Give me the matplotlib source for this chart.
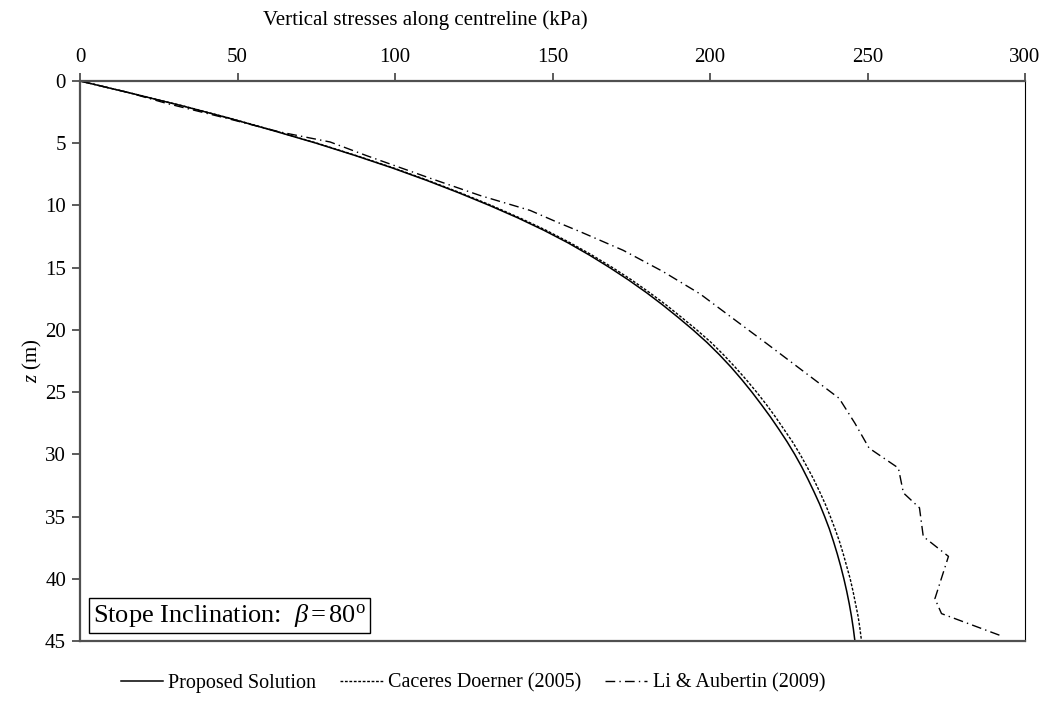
import matplotlib
matplotlib.use("Agg")
import matplotlib.pyplot as plt

plt.rcParams["font.family"] = ["Liberation Serif", "DejaVu Serif"]
plt.rcParams["mathtext.fontset"] = "custom"
plt.rcParams["mathtext.rm"] = "Liberation Serif"
plt.rcParams["mathtext.it"] = "Liberation Serif:italic"

# depth (m) and vertical stress (kPa)
depth = [0, 1, 2, 3, 4, 5, 6, 7, 8, 9, 10, 11, 12, 13, 14, 15, 16, 17, 18, 19, 20, 21, 22,
         23, 24, 25, 26, 27, 28, 29, 30, 31, 32, 33, 34, 35, 36, 37, 38, 39, 40, 41, 42, 43, 44, 45]
proposed = [0, 16.5, 32.5, 47.5, 61.5, 75.0, 87.5, 99.3, 110.2, 120.4, 130.0, 139.0, 147.3, 154.9,
            161.8, 168.2, 174.2, 179.8, 185.0, 189.9, 194.6, 199.0, 203.0, 206.7, 210.1, 213.3,
            216.3, 219.2, 221.9, 224.5, 226.9, 229.1, 231.1, 233.0, 234.8, 236.4, 237.9, 239.2,
            240.4, 241.5, 242.5, 243.4, 244.2, 244.9, 245.5, 246.0]
caceres = [0, 16.6, 32.7, 47.7, 61.8, 75.3, 87.8, 99.7, 110.6, 120.9, 130.6, 139.6, 148.0, 155.6,
           162.6, 169.1, 175.2, 180.8, 186.1, 191.0, 195.8, 200.3, 204.3, 208.0, 211.5, 214.8,
           217.9, 220.8, 223.5, 226.2, 228.6, 230.8, 232.9, 234.8, 236.6, 238.2, 239.7, 241.1,
           242.3, 243.4, 244.5, 245.4, 246.2, 247.0, 247.6, 248.1]

li_depth = [0, 0.9, 1.8, 3.0, 4.1, 4.9, 6.0, 7.8, 9.2, 10.4, 11.4, 12.1, 13.6, 15.3, 17.1, 19.5,
            21.1, 23.3, 25.5, 27.5, 29.5, 31.1, 33.1, 34.3, 36.6, 38.2, 41.6, 42.8, 44.6]
li_stress = [0, 15, 27.5, 46.6, 63.5, 79.4, 91, 111, 127, 142.9, 152, 158.7, 172.4, 185, 196.8, 209.5,
             218, 229.5, 241, 246, 250.5, 259.8, 261.4, 266.5, 267.7, 275.7, 271.4, 273.5, 292.6]

x_ticks = [0, 50, 100, 150, 200, 250, 300]
y_ticks = [0, 5, 10, 15, 20, 25, 30, 35, 40, 45]

fig = plt.figure(figsize=(10.48, 7.02), dpi=100)
ax = fig.add_axes([80 / 1048, 1 - 641 / 702, 945 / 1048, 560 / 702])

ax.plot(proposed, depth, color="black", lw=1.1, label="Proposed Solution")
ax.plot(caceres, depth, color="black", lw=1.0, linestyle=(0, (2, 1.2)), label="Caceres Doerner (2005)")
ax.plot(li_stress, li_depth, color="black", lw=1.0, linestyle=(0, (7, 3, 1, 3)), label="Li & Aubertin (2009)")

ax.set_xlim(0, 300)
ax.set_ylim(45, 0)
ax.set_xticks(x_ticks)
ax.set_yticks(y_ticks)
ax.xaxis.tick_top()
ax.tick_params(axis="both", which="major", labelsize=15, length=6, width=1.2, color="#404040", pad=4)
ax.tick_params(axis="x", top=True, bottom=False)
ax.tick_params(axis="y", right=False)

for side in ["top", "left", "bottom"]:
    ax.spines[side].set_linewidth(1.6)
    ax.spines[side].set_color("#505050")
ax.spines["right"].set_linewidth(0.8)
ax.spines["right"].set_color("black")

fig.text(425 / 1048, 1 - 20 / 702, "Vertical stresses along centreline (kPa)", ha="center", va="center", fontsize=15)
fig.text(32 / 1048, 1 - 361 / 702, "$z$ (m)", ha="center", va="center", rotation=90, fontsize=15)

ax.text(0.014, 0.045, r"Stope Inclination:  $\beta\,$=$\,$80$^{\rm o}$", transform=ax.transAxes,
        ha="left", va="center", fontsize=19,
        bbox=dict(boxstyle="square,pad=0.15", facecolor="white", edgecolor="black", linewidth=1.0))

ax.legend(loc="center", bbox_to_anchor=(473 / 1048, 1 - 683 / 702), bbox_transform=fig.transFigure,
          ncol=3, frameon=False, fontsize=14.5, handlelength=2.1, handletextpad=0.25, columnspacing=1.2)

fig.savefig("out.png", dpi=100)
